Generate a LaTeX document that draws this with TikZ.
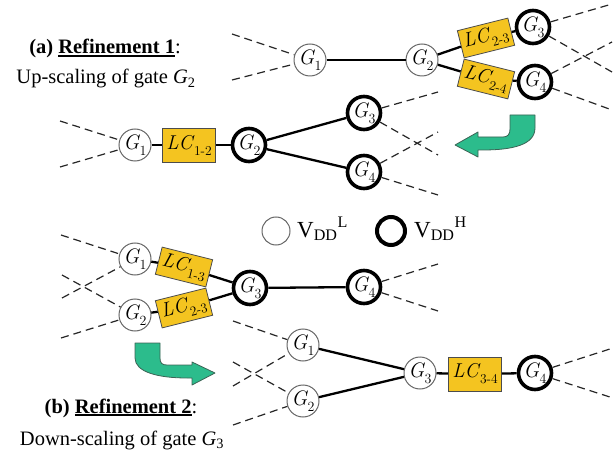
\documentclass[tikz,border=0pt]{standalone}
\usepackage{fontspec}
\newfontfamily\timesfont{Liberation Serif}
\definecolor{lcyellow}{RGB}{244,196,32}
\definecolor{arrowgreen}{RGB}{44,188,140}
\definecolor{arrowedge}{RGB}{60,100,85}
\newcommand\myulbox[1]{\leavevmode\vtop{\hbox{#1}\kern1.2pt\hrule height 1.8pt}}
\newcommand\gatelab[2]{\textit{#1}\kern-0.5pt\raisebox{-0.3em}{\fontsize{14}{14}\selectfont #2}}
\newcommand\lclab[1]{\textit{LC}\kern-0.5pt\raisebox{-0.3em}{\fontsize{13.5}{13.5}\selectfont #1}}
\begin{document}
\begin{tikzpicture}[x=1pt,y=-1pt,
  gthin/.style={circle, draw=black!60, line width=1pt, fill=white, minimum size=32pt, inner sep=0pt, font=\fontsize{21}{21}\selectfont},
  gthick/.style={circle, draw=black, line width=3.6pt, fill=white, minimum size=33pt, inner sep=0pt, font=\fontsize{21}{21}\selectfont},
  lcbox/.style={rectangle, draw=black!70, line width=0.8pt, fill=lcyellow, minimum width=53pt, minimum height=34pt, inner sep=0pt, font=\fontsize{20}{20}\selectfont},
  lcrot/.style={lcbox, minimum width=52pt, minimum height=28pt},
  wire/.style={line width=2.3pt, black},
  dashwire/.style={line width=1.2pt, dash pattern=on 8pt off 5pt, black!85},
  legthin/.style={circle, draw=black!60, line width=1pt, minimum size=28pt, inner sep=0pt},
  legthick/.style={circle, draw=black, line width=4pt, minimum size=28pt, inner sep=0pt},
  caption/.style={font=\timesfont\fontsize{20.5}{22}\selectfont, inner sep=0pt},
  legtext/.style={font=\timesfont\fontsize{23}{24}\selectfont, inner sep=0pt, anchor=base west},
  greenarrow/.style={fill=arrowgreen, draw=arrowedge, line width=0.8pt, line join=round}
]
\useasboundingbox (0,0) rectangle (615,454);

% ---------- captions ----------
\node[caption, anchor=base] (capa1) at (105,54) {\textbf{(a) \myulbox{Refinement 1}}:};
\node[caption, anchor=base] (capa2) at (106,84) {Up-scaling of gate \textit{G}\textsubscript{2}};
\node[caption, anchor=base] (capb1) at (121,413) {\textbf{(b) \myulbox{Refinement 2}}:};
\node[caption, anchor=base] (capb2) at (122,445) {Down-scaling of gate \textit{G}\textsubscript{3}};

% ---------- top (a) original ----------
\node[gthin] (aG1) at (310,60) {\gatelab{G}{1}};
\node[gthin] (aG2) at (422,60) {\gatelab{G}{2}};
\node[lcrot, rotate=14] (aLC23) at (486,38) {\lclab{2-3}};
\node[lcrot, rotate=-14] (aLC24) at (486,79) {\lclab{2-4}};
\node[gthick] (aG3) at (533,27) {\gatelab{G}{3}};
\node[gthick] (aG4) at (535,82) {\gatelab{G}{4}};
\coordinate (aIn1) at (232,34);
\coordinate (aIn2) at (232,80);
\coordinate (aOut1) at (612,4);
\coordinate (aOut2) at (612,72);
\coordinate (aOut3) at (612,42);
\coordinate (aOut4) at (612,110);
\draw[wire] (aG1) -- (aG2);
\draw[wire] (aG2) -- (aLC23);
\draw[wire] (aG2) -- (aLC24);
\draw[wire] (aLC23) -- (aG3);
\draw[wire] (aLC24) -- (aG4);
\draw[dashwire] (aIn1) -- (aG1);
\draw[dashwire] (aIn2) -- (aG1);
\draw[dashwire] (aG3) -- (aOut1);
\draw[dashwire] (aG3) -- (aOut2);
\draw[dashwire] (aG4) -- (aOut3);
\draw[dashwire] (aG4) -- (aOut4);

% ---------- middle (a) refined ----------
\node[gthin] (bG1) at (135,145) {\gatelab{G}{1}};
\node[lcbox] (bLC12) at (189,145) {\lclab{1-2}};
\node[gthick] (bG2) at (249,145) {\gatelab{G}{2}};
\node[gthick] (bG3) at (364,113) {\gatelab{G}{3}};
\node[gthick] (bG4) at (364,172) {\gatelab{G}{4}};
\coordinate (bIn1) at (60,121);
\coordinate (bIn2) at (60,167);
\coordinate (bOut1) at (438,92);
\coordinate (bOut2) at (438,155);
\coordinate (bOut3) at (438,132);
\coordinate (bOut4) at (438,195);
\draw[wire] (bG1) -- (bLC12);
\draw[wire] (bLC12) -- (bG2);
\draw[wire] (bG2) -- (bG3);
\draw[wire] (bG2) -- (bG4);
\draw[dashwire] (bIn1) -- (bG1);
\draw[dashwire] (bIn2) -- (bG1);
\draw[dashwire] (bG3) -- (bOut1);
\draw[dashwire] (bG3) -- (bOut2);
\draw[dashwire] (bG4) -- (bOut3);
\draw[dashwire] (bG4) -- (bOut4);

% green arrow (a)
\path[greenarrow] (510,115) -- (535,115) -- (535,128)
  .. controls (535,145) and (512,150) .. (483,150) -- (478,150) -- (478,157)
  -- (455,145) -- (478,132) -- (478,137) -- (503,137)
  .. controls (508,137) and (510,134) .. (510,129) -- cycle;

% ---------- legend ----------
\node[legthin] (legL) at (276,231) {};
\node[legtext] (legLt) at (297,237) {V\textsubscript{DD}\textsuperscript{L}};
\node[legthick] (legH) at (391,231) {};
\node[legtext] (legHt) at (414,237) {V\textsubscript{DD}\textsuperscript{H}};

% ---------- (b) original ----------
\node[gthin] (cG1) at (135,259) {\gatelab{G}{1}};
\node[gthin] (cG2) at (135,315) {\gatelab{G}{2}};
\node[lcrot, rotate=-14] (cLC13) at (184,267) {\lclab{1-3}};
\node[lcrot, rotate=14] (cLC23) at (184,308) {\lclab{2-3}};
\node[gthick] (cG3) at (250,288) {\gatelab{G}{3}};
\node[gthick] (cG4) at (364,287) {\gatelab{G}{4}};
\coordinate (cIn1) at (61,235);
\coordinate (cIn2) at (62,298);
\coordinate (cIn3) at (62,275);
\coordinate (cIn4) at (61,338);
\coordinate (cOut1) at (438,264);
\coordinate (cOut2) at (438,311);
\draw[wire] (cG1) -- (cLC13);
\draw[wire] (cG2) -- (cLC23);
\draw[wire] (cLC13) -- (cG3);
\draw[wire] (cLC23) -- (cG3);
\draw[wire] (cG3) -- (cG4);
\draw[dashwire] (cIn1) -- (cG1);
\draw[dashwire] (cIn2) -- (cG1);
\draw[dashwire] (cIn3) -- (cG2);
\draw[dashwire] (cIn4) -- (cG2);
\draw[dashwire] (cG4) -- (cOut1);
\draw[dashwire] (cG4) -- (cOut2);

% green arrow (b)
\path[greenarrow] (135,343) -- (160,343) -- (160,358)
  .. controls (160,363) and (162,365) .. (167,365) -- (192,365) -- (192,362)
  -- (215,373) -- (192,385) -- (192,378) -- (187,378)
  .. controls (158,378) and (135,372) .. (135,358) -- cycle;

% ---------- (b) refined ----------
\node[gthin] (dG1) at (303,345) {\gatelab{G}{1}};
\node[gthin] (dG2) at (303,401) {\gatelab{G}{2}};
\node[gthin] (dG3) at (420,373) {\gatelab{G}{3}};
\node[lcbox] (dLC34) at (475,374) {\lclab{3-4}};
\node[gthick] (dG4) at (535,373) {\gatelab{G}{4}};
\coordinate (dIn1) at (233,321);
\coordinate (dIn2) at (233,386);
\coordinate (dIn3) at (233,362);
\coordinate (dIn4) at (233,425);
\coordinate (dOut1) at (613,348);
\coordinate (dOut2) at (613,398);
\draw[wire] (dG1) -- (dG3);
\draw[wire] (dG2) -- (dG3);
\draw[wire] (dG3) -- (dLC34);
\draw[wire] (dLC34) -- (dG4);
\draw[dashwire] (dIn1) -- (dG1);
\draw[dashwire] (dIn2) -- (dG1);
\draw[dashwire] (dIn3) -- (dG2);
\draw[dashwire] (dIn4) -- (dG2);
\draw[dashwire] (dG4) -- (dOut1);
\draw[dashwire] (dG4) -- (dOut2);
\end{tikzpicture}
\end{document}
